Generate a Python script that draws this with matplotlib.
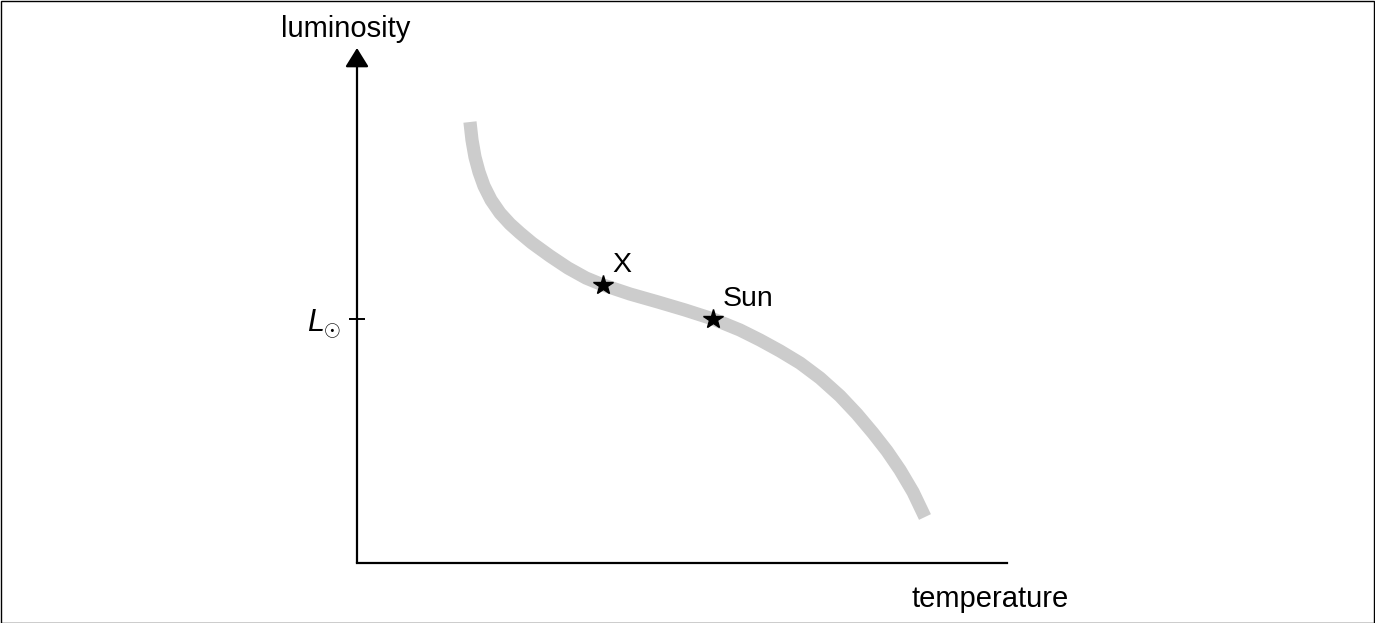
import matplotlib
matplotlib.use("Agg")
import matplotlib.pyplot as plt
from matplotlib.patches import Rectangle

plt.rcParams['font.family'] = ['Liberation Sans', 'DejaVu Sans']
plt.rcParams['mathtext.fontset'] = 'custom'
plt.rcParams['mathtext.it'] = 'Liberation Sans:italic'
plt.rcParams['mathtext.rm'] = 'Liberation Sans'

# main-sequence-like curve (arbitrary units, 0-100 on each axis)
curve_temp = [17.38, 17.69, 18.15, 18.77, 19.54, 20.62, 22.00, 23.54, 25.08, 26.92,
              29.69, 32.46, 35.23, 37.85, 42.00, 46.31, 50.46, 54.77, 58.92, 62.00,
              65.08, 68.15, 71.23, 74.31, 76.92, 79.38, 81.54, 83.54, 85.54, 87.38]
curve_lum = [85.63, 82.14, 78.83, 75.92, 73.20, 70.49, 67.96, 65.83, 64.08, 62.14,
             59.61, 57.28, 55.34, 53.98, 52.23, 50.68, 49.13, 47.38, 45.24, 43.30,
             41.17, 38.83, 35.92, 32.43, 28.93, 25.24, 21.75, 18.06, 13.79, 8.93]

star_names = ["X", "Sun"]
star_temp = [37.8, 54.8]
star_lum = [54.0, 47.4]

sun_lum = 47.4
ytick_labels = [r'$L_{\odot}$']

W, H = 1375, 623
fig = plt.figure(figsize=(W / 100, H / 100), dpi=100)
ax = fig.add_axes([357 / W, (H - 563) / H, 650 / W, (563 - 48) / H])
ax.set_xlim(0, 100)
ax.set_ylim(0, 100)

ax.plot(curve_temp, curve_lum, color='#cccccc', lw=9.5, solid_capstyle='butt',
        solid_joinstyle='round', zorder=2)
ax.plot(star_temp, star_lum, linestyle='none', marker='*', color='black',
        markersize=15, zorder=3)
for name, t, l in zip(star_names, star_temp, star_lum):
    ax.annotate(name, (t, l), xytext=(7, 9), textcoords='offset points',
                ha='left', va='baseline', fontsize=20.5)

for s in ['top', 'right', 'left']:
    ax.spines[s].set_visible(False)
ax.spines['bottom'].set_linewidth(1.6)
ax.set_xticks([])
ax.set_yticks([sun_lum])
ax.set_yticklabels(ytick_labels, fontsize=22)
ax.tick_params(axis='y', direction='inout', length=11, width=1.4, pad=6)

ax.annotate('', xy=(0, 1), xycoords='axes fraction', xytext=(0, 0),
            textcoords='axes fraction',
            arrowprops=dict(arrowstyle='-|>,head_length=0.58,head_width=0.36',
                            mutation_scale=20, lw=1.6, color='black',
                            shrinkA=0, shrinkB=0))

fig.text(346 / W, (H - 37) / H, 'luminosity', ha='center', va='baseline', fontsize=21)
fig.text(990 / W, (H - 607) / H, 'temperature', ha='center', va='baseline', fontsize=21)

fig.add_artist(Rectangle((0.5 / W, 0.5 / H), 1 - 1.5 / W, 1 - 1.5 / H,
                         transform=fig.transFigure, fill=False, lw=1, edgecolor='black'))

fig.savefig('out.png', dpi=100)
